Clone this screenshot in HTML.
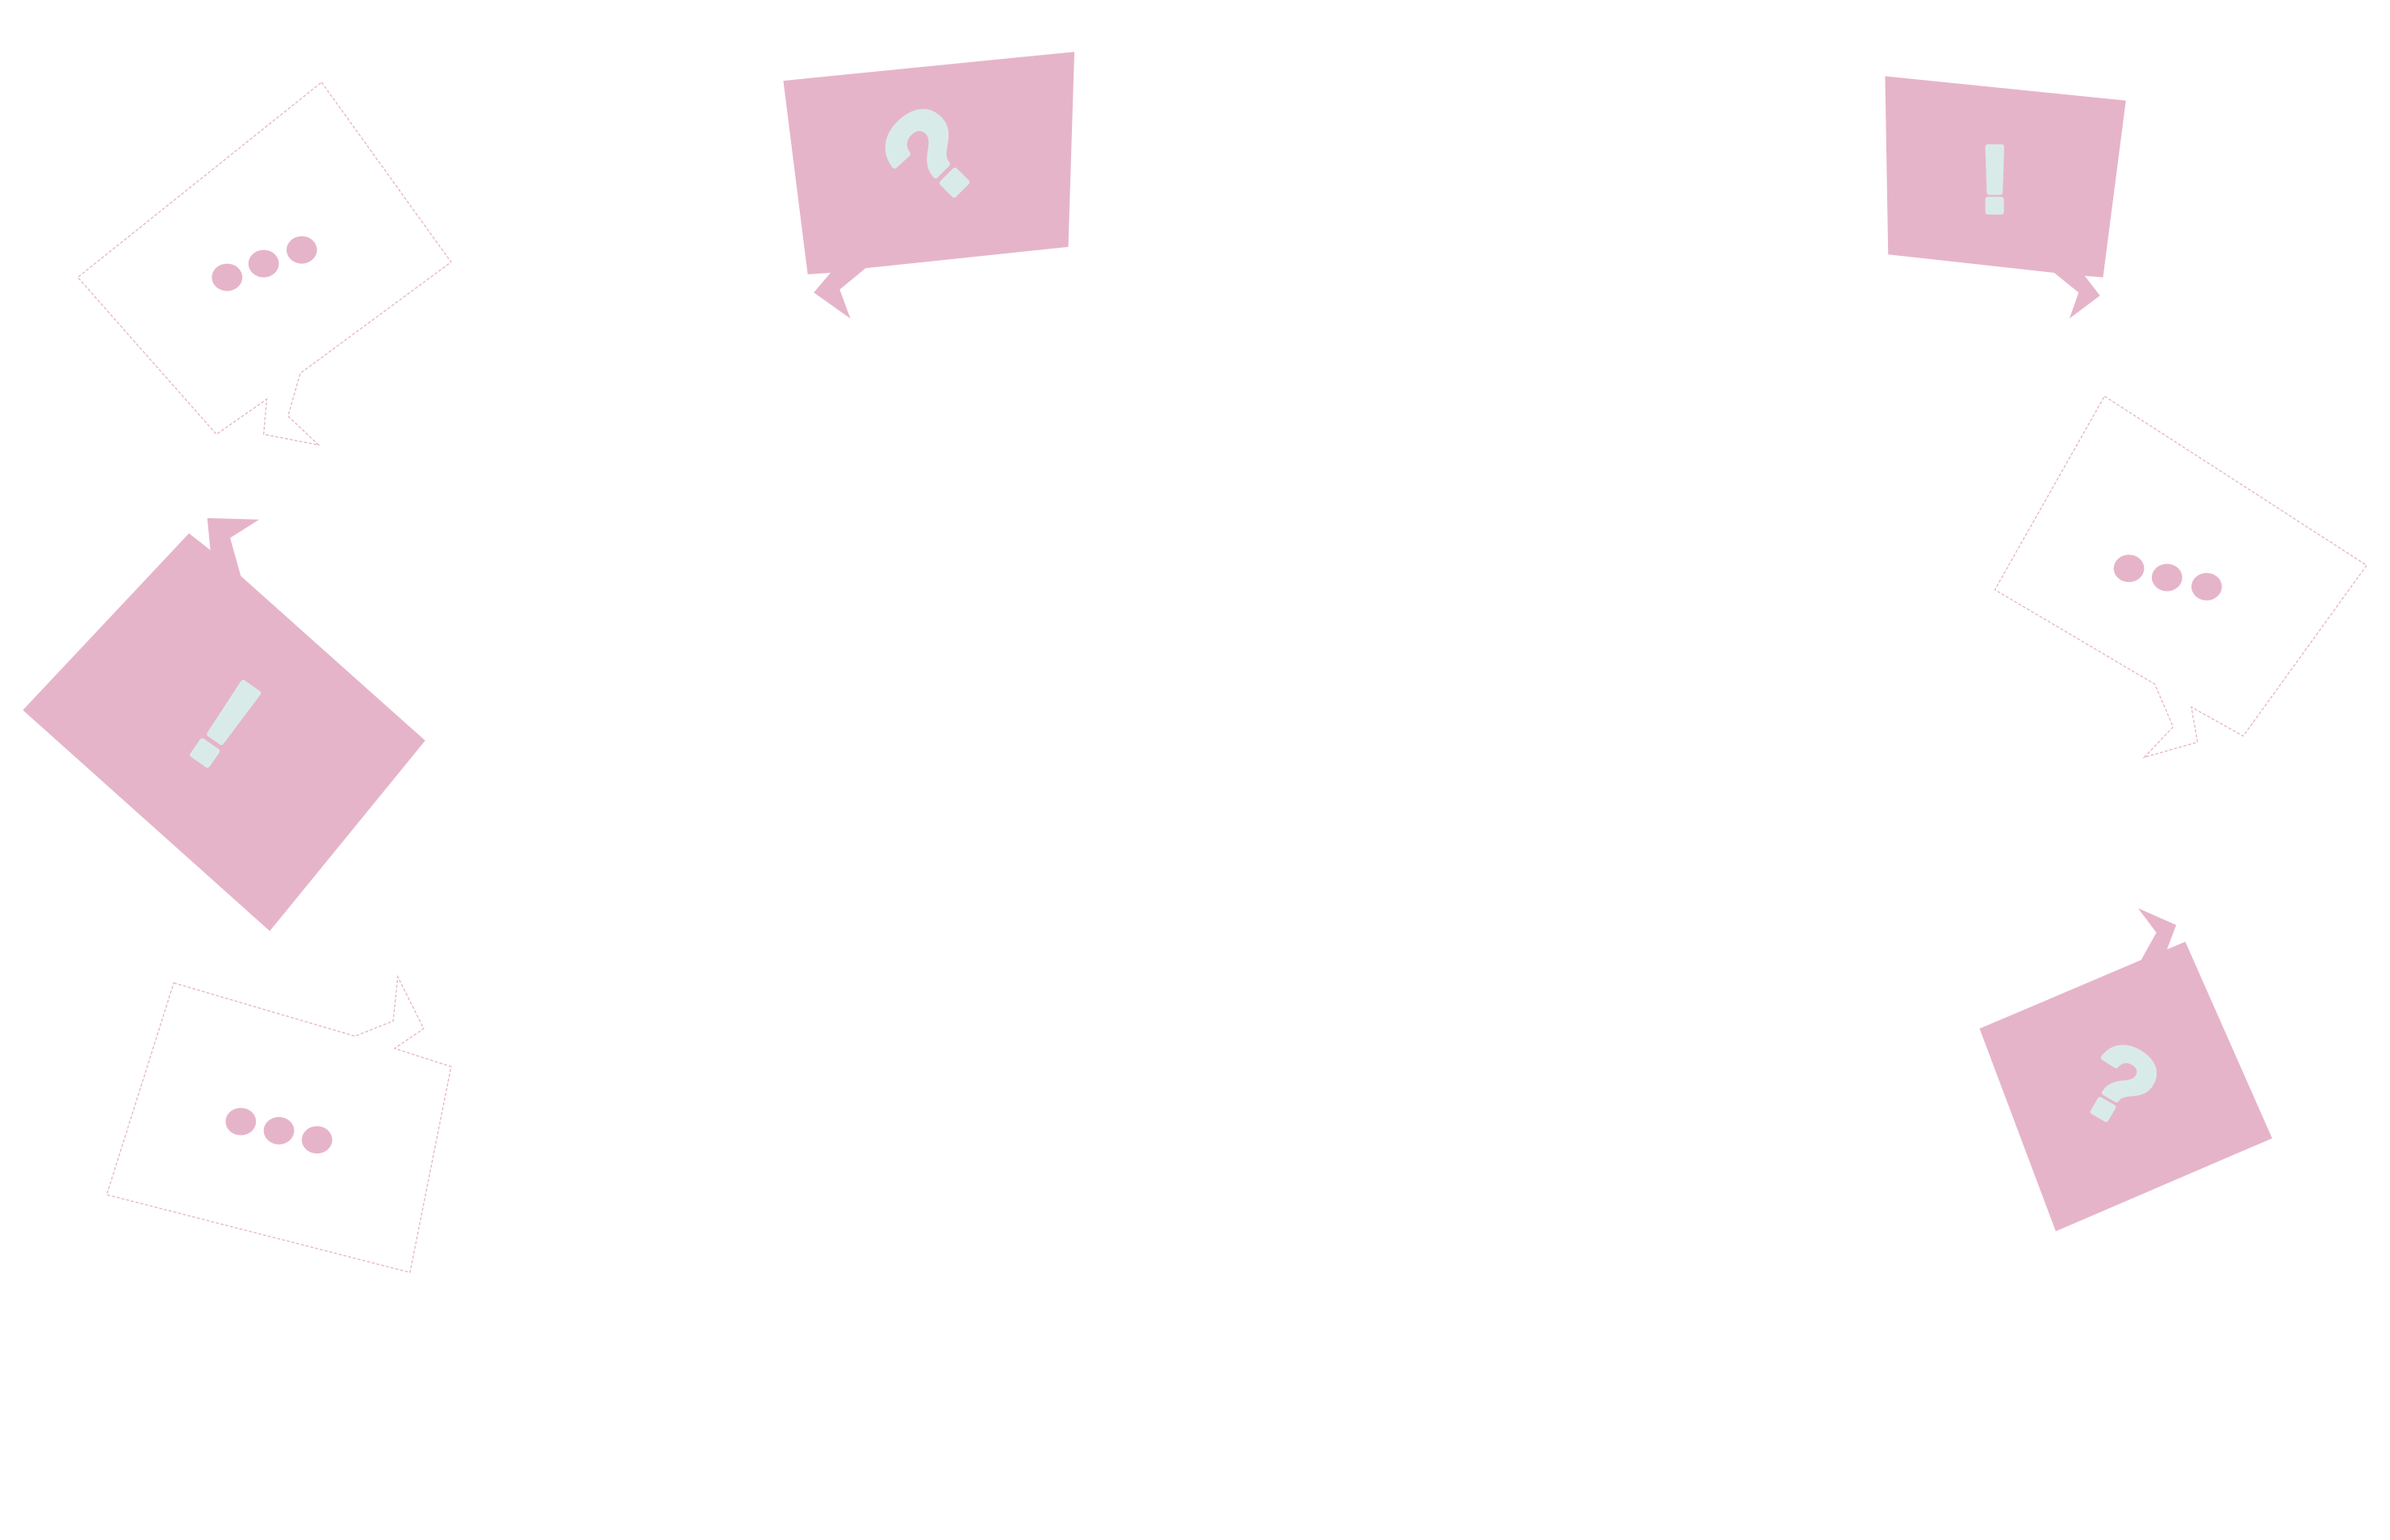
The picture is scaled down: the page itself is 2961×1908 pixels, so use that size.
<!DOCTYPE html>
<html><head><meta charset="utf-8"><style>html,body{margin:0;padding:0;background:#fff}svg{display:block}</style></head>
<body>
<svg width="2961" height="1908" viewBox="0 0 1568.3 1010.6" xmlns="http://www.w3.org/2000/svg">
<g fill="#fff" stroke="#e6b4c9" stroke-width="0.7" stroke-dasharray="2 1.2">
<polygon points="211,54 296,172 197,245 189,273 209,292 173,285 175,262 142,285 51,182"/>
<polygon points="1381,260 1553,371 1472,483 1438,464 1442,487 1407,497 1426,477 1414,449 1309,387"/>
<polygon points="114,645 233,680 258,670 261,641 278,675 259,688 296,700 269,835 70,784"/>
</g>
<g fill="#e6b4c9">
<polygon points="514,53 705,34 701,162 568,176 551,190 558,209 534,192 545,179 530,180"/>
<polygon points="1237,50 1395,66 1380,182 1368,181 1378,194 1358,209 1364,192 1348,179 1239,167"/>
<polygon points="15,466 124,350 138,361 136,340 170,341 151,353 158,378 279,486 177,611"/>
<polygon points="1299,675 1405,630 1415,612 1403,596 1428,607 1422,623 1434,618 1491,747 1349,808"/>
<ellipse cx="149" cy="182" rx="10" ry="9"/><ellipse cx="173" cy="173" rx="10" ry="9"/><ellipse cx="198" cy="164" rx="10" ry="9"/>
<ellipse cx="1397" cy="373" rx="10" ry="9"/><ellipse cx="1422" cy="379" rx="10" ry="9"/><ellipse cx="1448" cy="385" rx="10" ry="9"/>
<ellipse cx="158" cy="736" rx="10" ry="9"/><ellipse cx="183" cy="742" rx="10" ry="9"/><ellipse cx="208" cy="748" rx="10" ry="9"/>
</g>
<g fill="#d9ebe8" stroke="#d9ebe8" stroke-width="3.5" stroke-linejoin="round" font-family="Liberation Sans, sans-serif" font-weight="bold" text-anchor="middle">
<text x="0" y="0" font-size="84" transform="translate(611,102) rotate(-45) translate(0,29)">?</text>
<text x="1309" y="139" font-size="62">!</text>
<text x="0" y="0" font-size="84" transform="translate(148,475) rotate(35) translate(0,29)">!</text>
<text x="0" y="0" font-size="70" transform="translate(1391,712) rotate(30) translate(0,24)">?</text>
</g>
</svg>
</body></html>
